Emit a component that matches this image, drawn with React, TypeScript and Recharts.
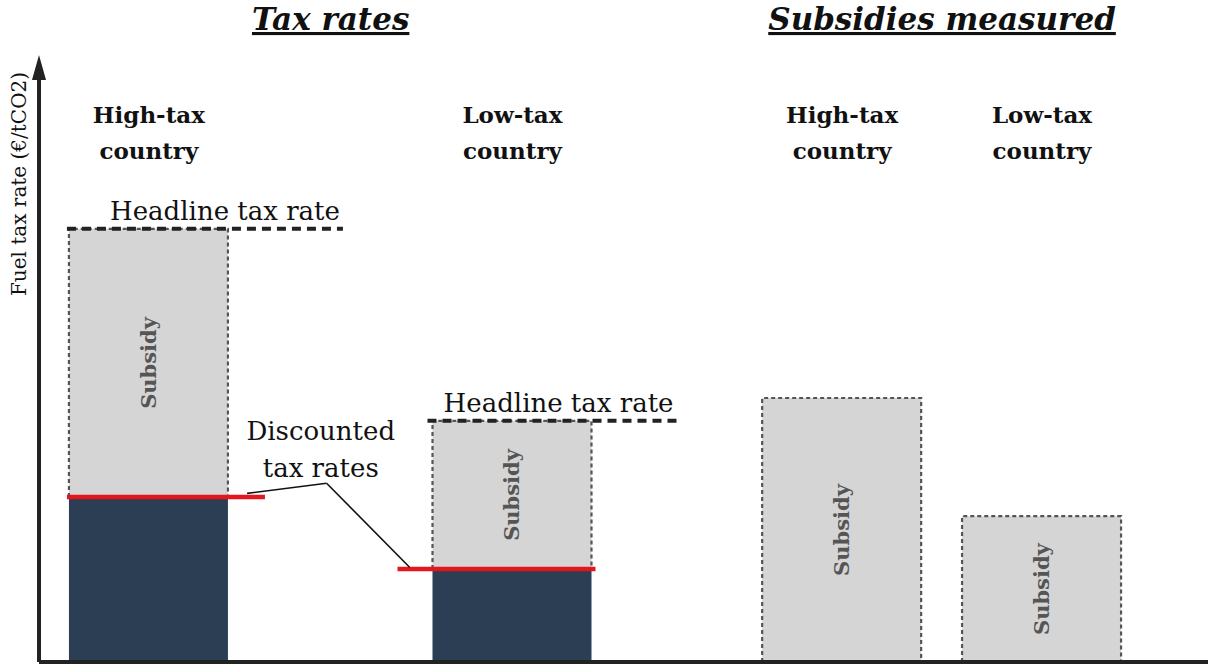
import React from 'react';
import { ComposedChart, Bar, XAxis, YAxis, ReferenceLine, ReferenceDot } from 'recharts';

// bars, left to right
const categories = ['High-tax country', 'Low-tax country', 'High-tax country', 'Low-tax country'];
const groups = ['Tax rates', 'Tax rates', 'Subsidies measured', 'Subsidies measured'];
const groupTitles = ['Tax rates', 'Subsidies measured'];
const xPos = [9.4, 40.5, 68.7, 85.8];
const discounted = [27.5, 15.5, 0, 0];
const subsidy = [44.7, 24.7, 44.0, 24.3];

// annotation anchors (data units)
const discountLabel = { x: 24.1, y: 37 };
const leaderElbow = { x: 24.6, y: 29.8 };

const FONT = '"DejaVu Serif", serif';
const DARK = '#2b3e54';
const GRAY = '#d5d5d5';
const RED = '#e3161d';

// pixel overhangs of the red / headline lines past each tax bar [left, right]
const redExt = [[2, 37], [35, 4]];
const headExt = [[2, 115], [5, 85]];

const data = categories.map((name, i) => ({
  x: xPos[i],
  name,
  group: groups[i],
  discounted: discounted[i],
  subsidy: subsidy[i],
}));

const groupCenters = groupTitles.map((g) => {
  const xs = xPos.filter((_, i) => groups[i] === g);
  return xs.reduce((a, b) => a + b, 0) / xs.length;
});

const DiscountShape = (props: any) => {
  const { x, y, width, height } = props;
  if (!height || height <= 0) return null;
  return <rect x={x} y={y} width={width} height={height} fill={DARK} />;
};

const SubsidyShape = (props: any) => {
  const { x, y, width, height, payload, index } = props;
  const cx = x + width / 2;
  const cy = y + height / 2;
  const isTax = payload.discounted > 0;
  const bottom = y + height;
  return (
    <g>
      <rect x={x} y={y} width={width} height={height} fill={GRAY} />
      <path
        d={`M${x},${bottom} V${y} H${x + width} V${bottom}`}
        fill="none"
        stroke="#555"
        strokeWidth={2.2}
        strokeDasharray="4 3"
      />
      <text
        x={cx}
        y={cy}
        transform={`rotate(-90 ${cx} ${cy})`}
        textAnchor="middle"
        dominantBaseline="central"
        fontFamily={FONT}
        fontWeight="bold"
        fontSize={21}
        fill="#555"
      >
        Subsidy
      </text>
      {isTax && (
        <g>
          <line
            x1={x - redExt[index][0]}
            x2={x + width + redExt[index][1]}
            y1={bottom}
            y2={bottom}
            stroke={RED}
            strokeWidth={4.5}
          />
          <line
            x1={x - headExt[index][0]}
            x2={x + width + headExt[index][1]}
            y1={y}
            y2={y}
            stroke="#222"
            strokeWidth={4}
            strokeDasharray="9 6"
          />
          <text
            x={x + width + headExt[index][1] - 3}
            y={y - 9}
            textAnchor="end"
            fontFamily={FONT}
            fontSize={26}
            fill="#111"
          >
            Headline tax rate
          </text>
        </g>
      )}
    </g>
  );
};

const CategoryTick = (props: any) => {
  const i = xPos.indexOf(props.payload.value);
  if (i < 0) return null;
  const words = categories[i].split(' ');
  return (
    <text textAnchor="middle" style={{ fontFamily: FONT }} fontWeight="bold" fontSize={23} fill="#111">
      <tspan x={props.x} y={123}>{words[0]}</tspan>
      <tspan x={props.x} y={159}>{words.slice(1).join(' ')}</tspan>
    </text>
  );
};

const GroupTick = (props: any) => {
  const i = groupCenters.indexOf(props.payload.value);
  if (i < 0) return null;
  return (
    <text
      x={props.x}
      y={30}
      textAnchor="middle"
      fontWeight="bold"
      fontStyle="italic"
      fontSize={31}
      fill="#111"
      style={{
        fontFamily: FONT,
        textDecoration: 'underline',
        textUnderlineOffset: '5px',
        textDecorationThickness: '2.5px',
      }}
    >
      {groupTitles[i]}
    </text>
  );
};

const YTitle = (props: any) => {
  const vb = props.viewBox || { x: 38, y: 62, width: 1 };
  const tx = vb.x + (vb.width || 0) - 13;
  const ty = vb.y + 122;
  return (
    <text
      x={tx}
      y={ty}
      transform={`rotate(-90 ${tx} ${ty})`}
      textAnchor="middle"
      style={{ fontFamily: FONT }}
      fontSize={20}
      fill="#111"
    >
      Fuel tax rate (€/tCO2)
    </text>
  );
};

const Arrow = (props: any) => {
  const { cx, cy } = props;
  return <polygon points={`${cx},${cy - 7} ${cx - 7},${cy + 18} ${cx + 7},${cy + 18}`} fill="#222" />;
};

const DiscountLabel = (props: any) => {
  const { cx, cy } = props;
  return (
    <text textAnchor="middle" fontFamily={FONT} fontSize={26} fill="#111">
      <tspan x={cx} y={cy}>Discounted</tspan>
      <tspan x={cx} y={cy + 37}>tax rates</tspan>
    </text>
  );
};

export default function App() {
  const leaderStart = { x: xPos[0] + 8.4, y: discounted[0] + 0.6 };
  const leaderEnd = { x: xPos[1] - 8.8, y: discounted[1] + 0.3 };
  return (
    <div style={{ position: 'absolute', left: 0, top: 0, background: '#fff' }}>
      <ComposedChart width={1208} height={666} data={data} margin={{ top: 60, right: 0, bottom: 3, left: 38 }}>
        <XAxis
          dataKey="x"
          type="number"
          domain={[0, 100]}
          ticks={xPos}
          tick={false}
          tickLine={false}
          axisLine={{ stroke: '#222', strokeWidth: 4 }}
          height={1}
          allowDataOverflow
        />
        <XAxis
          xAxisId="cat"
          dataKey="x"
          orientation="top"
          type="number"
          domain={[0, 100]}
          ticks={xPos}
          interval={0}
          tick={<CategoryTick />}
          tickLine={false}
          axisLine={false}
          height={1}
          allowDataOverflow
        />
        <XAxis
          xAxisId="grp"
          dataKey="x"
          orientation="top"
          type="number"
          domain={[0, 100]}
          ticks={groupCenters}
          interval={0}
          tick={<GroupTick />}
          tickLine={false}
          axisLine={false}
          height={1}
          allowDataOverflow
        />
        <YAxis
          type="number"
          domain={[0, 100]}
          width={1}
          tick={false}
          tickLine={false}
          axisLine={{ stroke: '#222', strokeWidth: 4 }}
          allowDataOverflow
          label={<YTitle />}
        />
        <Bar dataKey="discounted" stackId="a" barSize={159} shape={<DiscountShape />} isAnimationActive={false} />
        <Bar dataKey="subsidy" stackId="a" barSize={159} shape={<SubsidyShape />} isAnimationActive={false} />
        <ReferenceLine segment={[leaderStart, leaderElbow]} stroke="#111" strokeWidth={1.6} ifOverflow="visible" />
        <ReferenceLine segment={[leaderElbow, leaderEnd]} stroke="#111" strokeWidth={1.6} ifOverflow="visible" />
        <ReferenceDot x={discountLabel.x} y={discountLabel.y} r={0} shape={<DiscountLabel />} ifOverflow="visible" />
        <ReferenceDot x={0} y={100} r={0} shape={<Arrow />} ifOverflow="visible" />
      </ComposedChart>
    </div>
  );
}
